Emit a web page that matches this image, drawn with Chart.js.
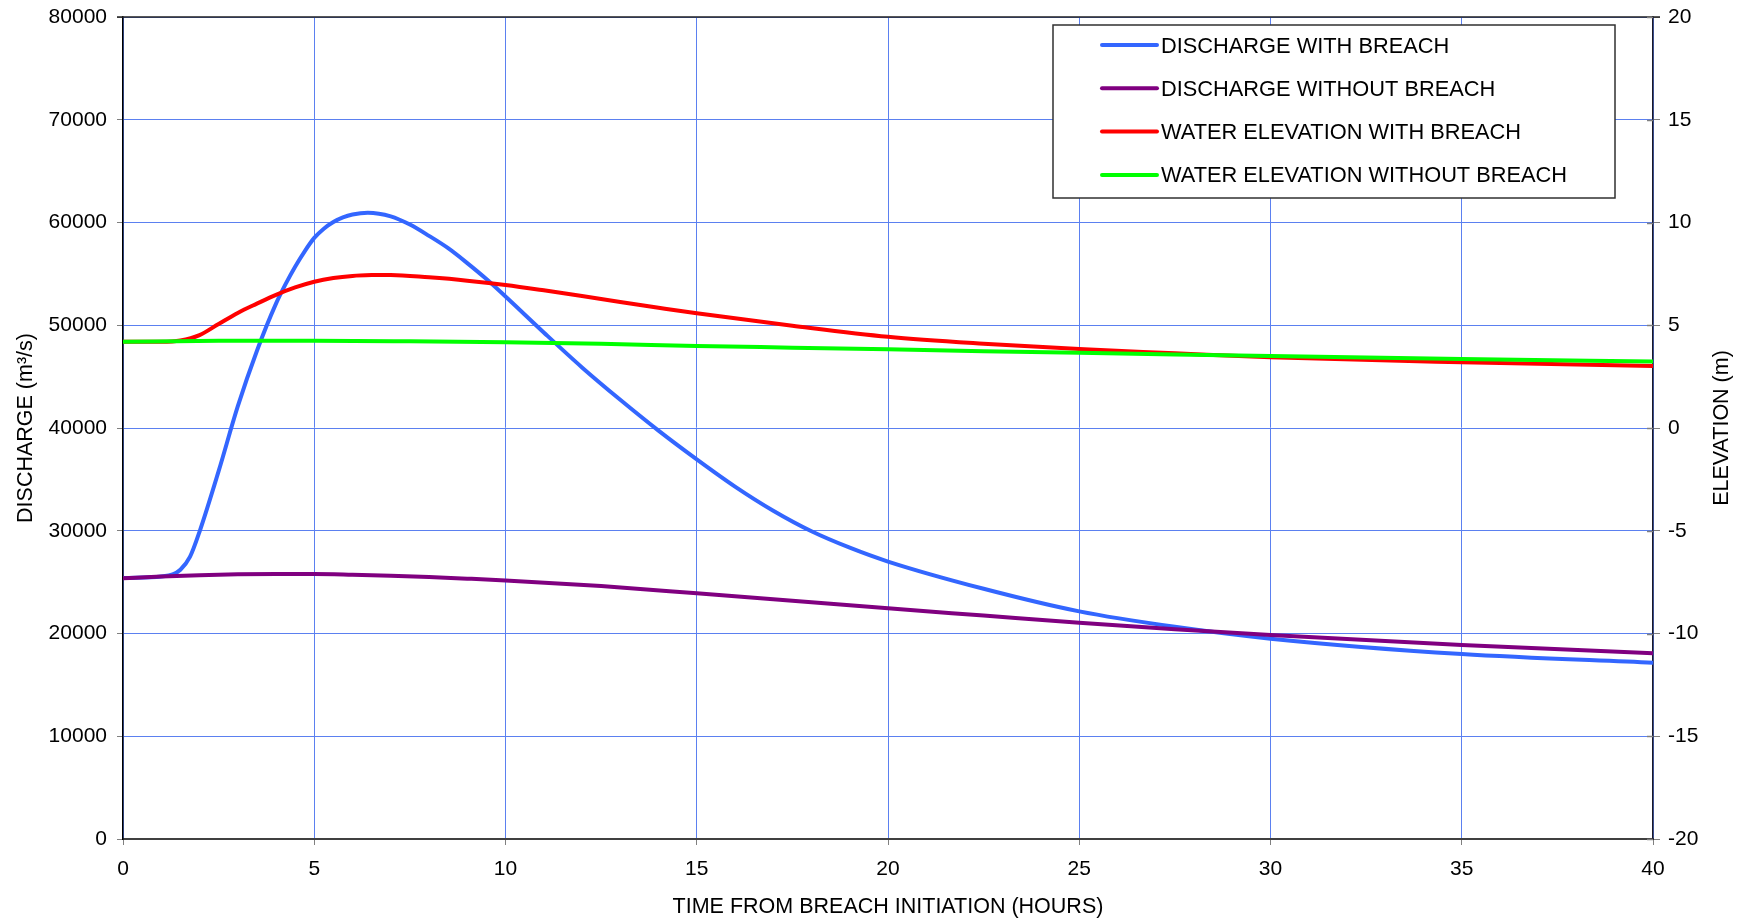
<!DOCTYPE html>
<html>
<head>
<meta charset="utf-8">
<title>Discharge and water elevation</title>
<script src="https://cdn.jsdelivr.net/npm/chart.js@4/dist/chart.umd.min.js"></script>
<style>
	body { margin: 0; background: #ffffff; }
	canvas { display: block; }
</style>
</head>
<body>
<canvas id="chart" width="1741" height="921"></canvas>
<script>
// discharge (m3/s) with breach
const hoursQBreach = [0, 1, 1.3, 1.5, 1.75, 2, 2.5, 3, 3.5, 4, 4.25, 4.5, 4.75, 5, 5.25, 5.5, 5.75, 6, 6.4, 7, 7.5, 8,
	8.5, 9, 9.5, 10, 11, 12, 13, 14, 15, 16, 17, 18, 19, 20, 22.5, 25, 27.5, 30, 35, 40];
const dischargeBreach = [25400, 25550, 25750, 26200, 27450, 29900, 35800, 42100, 47500, 52100, 54000, 55700, 57200,
	58500, 59400, 60050, 60500, 60780, 60950, 60600, 59800, 58700, 57500, 56050, 54500, 52800, 49300, 45900, 42750,
	39750, 36950, 34300, 31950, 29950, 28350, 27000, 24350, 22150, 20650, 19500, 18000, 17150];

// discharge (m3/s) without breach
const hoursQNoBreach = [0, 1, 2, 3, 4, 5, 6, 7, 8, 9, 10, 12.5, 15, 17.5, 20, 22.5, 25, 27.5, 30, 35, 40];
const dischargeNoBreach = [25370, 25550, 25680, 25760, 25790, 25790, 25720, 25620, 25490, 25340, 25170, 24620,
	23910, 23180, 22450, 21750, 21050, 20420, 19850, 18880, 18070];

// water elevation (m) with breach
const hoursHBreach = [0, 1, 1.5, 2, 2.5, 3, 3.5, 4, 4.5, 5, 5.5, 6, 6.5, 7, 8, 9, 10, 11, 12, 13, 14, 15, 17.5, 20,
	22.5, 25, 27.5, 30, 35, 40];
const elevationBreach = [4.2, 4.2, 4.26, 4.52, 5.06, 5.6, 6.05, 6.48, 6.84, 7.12, 7.3, 7.4, 7.44, 7.45, 7.33, 7.17,
	6.96, 6.7, 6.42, 6.13, 5.85, 5.58, 4.98, 4.44, 4.1, 3.84, 3.64, 3.44, 3.2, 3.02];

// water elevation (m) without breach
const hoursHNoBreach = [0, 2.5, 5, 7.5, 10, 12.5, 15, 17.5, 20, 22.5, 25, 27.5, 30, 35, 40];
const elevationNoBreach = [4.2, 4.24, 4.25, 4.22, 4.17, 4.1, 3.99, 3.91, 3.83, 3.74, 3.66, 3.58, 3.5, 3.36, 3.23];

const seriesLabels = ['DISCHARGE WITH BREACH', 'DISCHARGE WITHOUT BREACH',
	'WATER ELEVATION WITH BREACH', 'WATER ELEVATION WITHOUT BREACH'];
const seriesColors = ['#3366ff', '#800080', '#ff0000', '#00ff00'];

const FONT = "'Liberation Sans', Arial, sans-serif";
const GRID_BLUE = '#5b80f0';
const TICK_GRAY = '#808080';

function toPoints(hours, values)
{
	return hours.map((h, i) => ({ x: h, y: values[i] }));
}

function makeSeries(i, hours, values, axis)
{
	return {
		label: seriesLabels[i],
		data: toPoints(hours, values),
		yAxisID: axis,
		borderColor: seriesColors[i],
		backgroundColor: seriesColors[i],
		borderWidth: 4,
		pointRadius: 0,
		fill: false,
		cubicInterpolationMode: 'monotone',
		order: 4 - i // green ends up on top
	};
}

// keep the plot box exactly where the axes widths put it
function fixWidth(w)
{
	return (s) => { s.width = w; s.paddingTop = 0; s.paddingBottom = 0; };
}

// frame top line, inner right ticks, right title and the boxed legend
const framePlugin = {
	id: 'frame',
	afterDraw(chart, args, opts)
	{
		const ctx = chart.ctx;
		const area = chart.chartArea;
		const y2 = chart.scales.y2;

		ctx.save();
		ctx.strokeStyle = '#202020';
		ctx.lineWidth = 1.5;
		ctx.beginPath();
		ctx.moveTo(area.left - 6, area.top);
		ctx.lineTo(area.right + 7, area.top);
		ctx.stroke();

		ctx.strokeStyle = TICK_GRAY;
		ctx.lineWidth = 1.5;
		y2.ticks.forEach(t =>
		{
			const py = Math.round(y2.getPixelForValue(t.value)) + 0.5;
			ctx.beginPath();
			ctx.moveTo(area.right - 6, py);
			ctx.lineTo(area.right, py);
			ctx.stroke();
		});

		// right axis title reads bottom-to-top like the left one
		ctx.fillStyle = '#000';
		ctx.font = opts.titleSize + 'px ' + FONT;
		ctx.textAlign = 'center';
		ctx.textBaseline = 'middle';
		ctx.translate(opts.rightTitleX, (area.top + area.bottom) / 2);
		ctx.rotate(-Math.PI / 2);
		ctx.fillText(opts.rightTitle, 0, 0);
		ctx.setTransform(1, 0, 0, 1, 0, 0);

		// legend
		const box = opts.legendBox;
		ctx.fillStyle = '#ffffff';
		ctx.fillRect(box.left, box.top, box.width, box.height);
		ctx.strokeStyle = '#303030';
		ctx.lineWidth = 1.5;
		ctx.strokeRect(box.left, box.top, box.width, box.height);

		ctx.font = opts.legendSize + 'px ' + FONT;
		ctx.textAlign = 'left';
		ctx.lineCap = 'round';
		chart.data.datasets.forEach((ds, i) =>
		{
			const ry = box.top + box.firstRow + i * box.rowGap;
			ctx.strokeStyle = ds.borderColor;
			ctx.lineWidth = 4;
			ctx.beginPath();
			ctx.moveTo(box.left + 49, ry);
			ctx.lineTo(box.left + 104, ry);
			ctx.stroke();
			ctx.fillStyle = '#000';
			ctx.fillText(ds.label, box.left + 108, ry + 1.5);
		});
		ctx.restore();
	}
};

const tickFont = { family: FONT, size: 21 };
const titleFont = { family: FONT, size: 21.5 };

new Chart(document.getElementById('chart'),
{
	type: 'line',
	data:
	{
		datasets: [
			makeSeries(0, hoursQBreach, dischargeBreach, 'y'),
			makeSeries(1, hoursQNoBreach, dischargeNoBreach, 'y'),
			makeSeries(2, hoursHBreach, elevationBreach, 'y2'),
			makeSeries(3, hoursHNoBreach, elevationNoBreach, 'y2')
		]
	},
	options:
	{
		responsive: false,
		animation: false,
		devicePixelRatio: 1,
		layout: { padding: { top: 17, left: 0, right: 0, bottom: 0 } },
		plugins:
		{
			legend: { display: false },
			tooltip: { enabled: false },
			frame:
			{
				rightTitle: 'ELEVATION (m)',
				rightTitleX: 1722,
				titleSize: 21.5,
				legendSize: 21.8,
				legendBox: { left: 1053, top: 25, width: 562, height: 173, firstRow: 20, rowGap: 43.3 }
			}
		},
		scales:
		{
			x:
			{
				type: 'linear',
				position: 'bottom',
				min: 0,
				max: 40,
				ticks: { stepSize: 5, color: '#000', font: tickFont, padding: 12, maxRotation: 0 },
				grid: { color: GRID_BLUE, tickColor: TICK_GRAY, tickLength: 6, lineWidth: 1 },
				border: { color: '#404040', width: 2 },
				title:
				{
					display: true,
					text: 'TIME FROM BREACH INITIATION (HOURS)',
					color: '#000',
					font: titleFont,
					padding: { top: 0, bottom: 1 }
				},
				afterFit: (s) => { s.height = 82; s.paddingLeft = 0; s.paddingRight = 0; }
			},
			y:
			{
				type: 'linear',
				position: 'left',
				min: 0,
				max: 80000,
				ticks: { stepSize: 10000, color: '#000', font: tickFont, padding: 10, callback: (v) => String(v) },
				grid: { color: GRID_BLUE, tickColor: TICK_GRAY, tickLength: 6, lineWidth: 1 },
				border: { color: '#000', width: 1.5 },
				title:
				{
					display: true,
					text: 'DISCHARGE (m³/s)',
					color: '#000',
					font: titleFont,
					padding: { top: 13, bottom: 0 }
				},
				afterFit: fixWidth(123)
			},
			y2:
			{
				type: 'linear',
				position: 'right',
				min: -20,
				max: 20,
				ticks: { stepSize: 5, color: '#000', font: tickFont, padding: 8, callback: (v) => String(v) },
				grid: { drawOnChartArea: false, tickColor: TICK_GRAY, tickLength: 7 },
				border: { color: '#1a1a2a', width: 1.5 },
				afterFit: fixWidth(88)
			}
		}
	},
	plugins: [framePlugin]
});
</script>
</body>
</html>
